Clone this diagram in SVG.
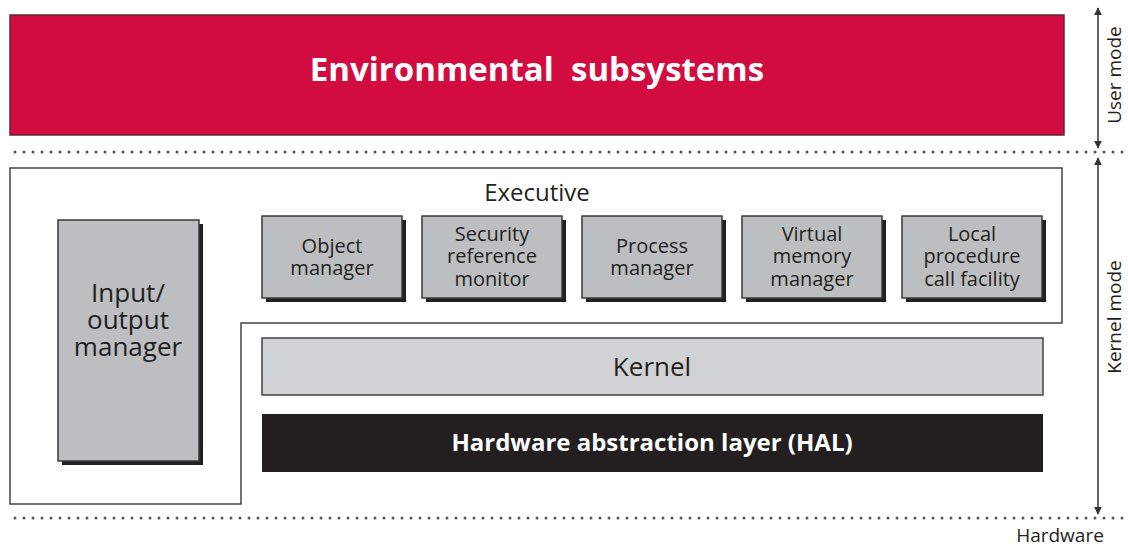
<svg xmlns="http://www.w3.org/2000/svg" width="1128" height="548" viewBox="0 0 1128 548">
<defs>
<style>
.t{font-family:"Open Sans","Liberation Sans",sans-serif;fill:#231f20;text-anchor:middle}
.box{fill:#bcbec0;stroke:#3a3a3a;stroke-width:1.5}
.sh{fill:#231f20}
.dot{stroke:#555;stroke-width:3;stroke-dasharray:0 9;stroke-linecap:round;fill:none}
.arr{stroke:#333;stroke-width:1.5;fill:none;marker-start:url(#ah);marker-end:url(#ah)}
</style>
<marker id="ah" viewBox="0 0 10 10" refX="9" refY="5" markerWidth="8" markerHeight="8" orient="auto-start-reverse" markerUnits="userSpaceOnUse">
<path d="M0,0 L10,5 L0,10 z" fill="#333"/>
</marker>
</defs>
<rect width="1128" height="548" fill="#fff"/>
<g id="env">
<rect x="10" y="15" width="1054" height="120" fill="#d20c40" stroke="#5a2a30" stroke-width="1.5"/>
<text class="t" x="537" y="81" font-size="33" font-weight="bold" xml:space="preserve" style="fill:#fff">Environmental  subsystems</text>
</g>
<g id="separators">
<line class="dot" x1="15" y1="152" x2="1124" y2="152"/>
<line class="dot" x1="15" y1="518" x2="1124" y2="518"/>
</g>
<g id="executive">
<path d="M10,168 H1062 V323 H241 V504 H10 Z" fill="#fff" stroke="#444" stroke-width="1.5"/>
<text class="t" x="537" y="201" font-size="24">Executive</text>
</g>
<g id="io">
<rect class="sh" x="62" y="224" width="141" height="241"/>
<rect class="box" x="58" y="220" width="141" height="241"/>
<text class="t" x="128" y="302" font-size="26">Input/</text>
<text class="t" x="128" y="329" font-size="26">output</text>
<text class="t" x="128" y="356" font-size="26">manager</text>
</g>
<g id="object">
<rect class="sh" x="266" y="220" width="140" height="82"/>
<rect class="box" x="262" y="216" width="140" height="82"/>
<text class="t" x="332" y="253" font-size="20">Object</text>
<text class="t" x="332" y="275" font-size="20">manager</text>
</g>
<g id="security">
<rect class="sh" x="426" y="220" width="140" height="82"/>
<rect class="box" x="422" y="216" width="140" height="82"/>
<text class="t" x="492" y="241" font-size="20">Security</text>
<text class="t" x="492" y="263" font-size="20">reference</text>
<text class="t" x="492" y="286" font-size="20">monitor</text>
</g>
<g id="process">
<rect class="sh" x="586" y="220" width="140" height="82"/>
<rect class="box" x="582" y="216" width="140" height="82"/>
<text class="t" x="652" y="253" font-size="20">Process</text>
<text class="t" x="652" y="275" font-size="20">manager</text>
</g>
<g id="vmm">
<rect class="sh" x="746" y="220" width="140" height="82"/>
<rect class="box" x="742" y="216" width="140" height="82"/>
<text class="t" x="812" y="241" font-size="20">Virtual</text>
<text class="t" x="812" y="263" font-size="20">memory</text>
<text class="t" x="812" y="286" font-size="20">manager</text>
</g>
<g id="lpc">
<rect class="sh" x="906" y="220" width="140" height="82"/>
<rect class="box" x="902" y="216" width="140" height="82"/>
<text class="t" x="972" y="241" font-size="20">Local</text>
<text class="t" x="972" y="263" font-size="20">procedure</text>
<text class="t" x="972" y="286" font-size="20">call facility</text>
</g>
<g id="kernel">
<rect x="262" y="338" width="781" height="57" fill="#d1d2d4" stroke="#444" stroke-width="1.5"/>
<text class="t" x="652" y="376" font-size="26">Kernel</text>
</g>
<g id="hal">
<rect x="262" y="414" width="781" height="58" fill="#231f20"/>
<text class="t" x="652" y="451" font-size="24" font-weight="bold" style="fill:#fff">Hardware abstraction layer (HAL)</text>
</g>
<g id="connectors">
<line class="arr" x1="1098" y1="8" x2="1098" y2="148"/>
<line class="arr" x1="1098" y1="158" x2="1098" y2="514"/>
</g>
<g id="labels">
<text class="t" font-size="19" transform="translate(1121,75) rotate(-90)">User mode</text>
<text class="t" font-size="19" transform="translate(1121,317) rotate(-90)">Kernel mode</text>
<text class="t" x="1060" y="542" font-size="19">Hardware</text>
</g>
</svg>
